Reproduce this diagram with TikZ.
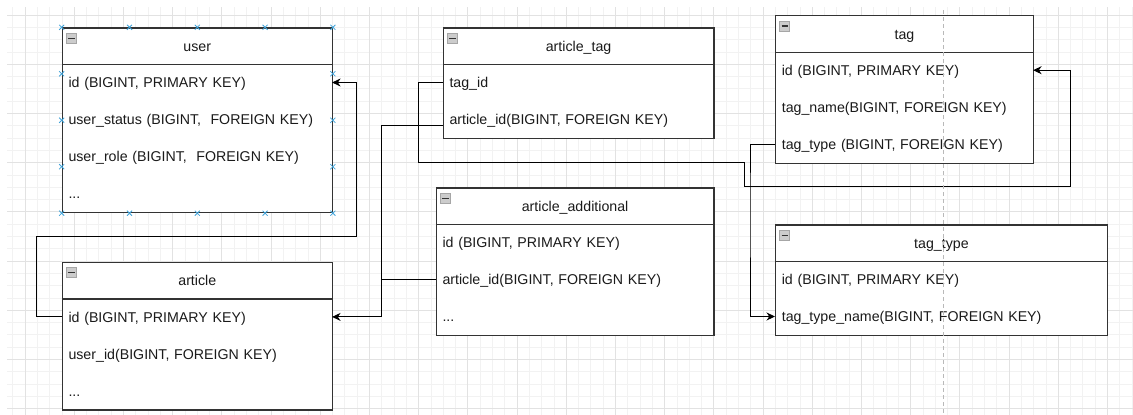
\documentclass[tikz,border=0pt]{standalone}
\usepackage{fontspec}
\setmainfont{Liberation Sans}
\usetikzlibrary{arrows.meta,calc}
\definecolor{boxline}{HTML}{333333}
\definecolor{txt}{HTML}{1A1A1A}
\definecolor{gridminor}{HTML}{F2F2F2}
\definecolor{gridmajor}{HTML}{E2E2E2}
\definecolor{selx}{HTML}{3FA3DA}
\tikzset{
  x=1pt, y=-1pt,
  tbox/.style={rectangle, draw=boxline, line width=1.2pt, fill=white, inner sep=0pt},
  thead/.style={rectangle, draw=boxline, line width=1.2pt, minimum height=36.7pt, inner sep=0pt,
    font=\fontsize{14.2}{17}\selectfont, text=txt, text height=11.2pt, text depth=1pt},
  rowtxt/.style={anchor=west, inner xsep=6.6pt, inner ysep=0pt, text height=11.2pt, text depth=1pt,
    align=left, font=\fontsize{14.2}{17}\selectfont, text=txt},
  minusbox/.style={rectangle, minimum size=10pt, inner sep=0pt, fill=gray!40, draw=gray!70, line width=0.8pt},
  minusline/.style={draw=black!80, line width=1.3pt},
  conn/.style={draw=black, line width=1pt},
  arr/.style={-{Stealth[length=8.5pt,width=8pt]}},
  minorgrid/.style={draw=gridminor, line width=0.8pt},
  majorgrid/.style={draw=gridmajor, line width=0.9pt},
  selmark/.style={draw=selx, line width=0.8pt},
  pagebreak/.style={draw=gray!55, line width=0.9pt, dash pattern=on 4pt off 3pt}
}
\newcommand\erTable[6]{%
  \pgfmathsetmacro\erH{36.7+37*#5}%
  \node[tbox, minimum width=#4pt, minimum height=\erH pt, anchor=north west] (#1) at (#2,#3) {};
  \node[thead, minimum width=#4pt, anchor=north west] (#1-h) at (#2,#3) {#6};
  \node[minusbox] (#1-m) at ([shift={(9.8,10.9)}]#1.north west) {};
  \draw[minusline] ([xshift=2.3pt]#1-m.west) -- ([xshift=-2.3pt]#1-m.east);
}
\newcommand\erRow[5]{%
  \pgfmathsetmacro\erY{55.2+37*#4}%
  \pgfmathsetmacro\erTW{#3-13.2}%
  \node[rowtxt, text width=\erTW pt] (#1) at ([yshift=-\erY pt]#2.north west) {#5};
}
\newcommand\selX[1]{%
  \draw[selmark] ([shift={(-2.5,-2.5)}]#1) -- ([shift={(2.5,2.5)}]#1)
                 ([shift={(-2.5,2.5)}]#1) -- ([shift={(2.5,-2.5)}]#1);
}
\begin{document}
\begin{tikzpicture}
\useasboundingbox (0,0) rectangle (1133,415);
\fill[white] (0,0) rectangle (1133,415);
% grid
\begin{scope}
\clip (7,7) rectangle (1133,415);
\foreach \k in {-2,...,91} \draw[minorgrid] ({25+12.3*\k},0) -- ({25+12.3*\k},415);
\foreach \k in {-1,...,33} \draw[minorgrid] (0,{15+12.3*\k}) -- (1133,{15+12.3*\k});
\foreach \k in {0,...,22} \draw[majorgrid] ({25+49.2*\k},0) -- ({25+49.2*\k},415);
\foreach \k in {0,...,8} \draw[majorgrid] (0,{15+49.2*\k}) -- (1133,{15+49.2*\k});
\end{scope}

% tables
\erTable{user}{61.7}{27.3}{270}{4}{user}
\erRow{user-id}{user}{270}{0}{id (BIGINT, PRIMARY KEY)}
\erRow{user-status}{user}{270}{1}{user\_status (BIGINT,\ \ FOREIGN KEY)}
\erRow{user-role}{user}{270}{2}{user\_role (BIGINT,\ \ FOREIGN KEY)}
\erRow{user-more}{user}{270}{3}{...}

\erTable{at}{442.7}{27.3}{270.6}{2}{article\_tag}
\erRow{at-tagid}{at}{270.6}{0}{tag\_id}
\erRow{at-artid}{at}{270.6}{1}{article\_id(BIGINT, FOREIGN KEY)}

\erTable{tag}{775}{15}{257.7}{3}{tag}
\erRow{tag-id}{tag}{257.7}{0}{id (BIGINT, PRIMARY KEY)}
\erRow{tag-name}{tag}{257.7}{1}{tag\_name(BIGINT, FOREIGN KEY)}
\erRow{tag-type}{tag}{257.7}{2}{tag\_type (BIGINT, FOREIGN KEY)}

\erTable{article}{61.7}{261.7}{270}{3}{article}
\erRow{article-id}{article}{270}{0}{id (BIGINT, PRIMARY KEY)}
\erRow{article-uid}{article}{270}{1}{user\_id(BIGINT, FOREIGN KEY)}
\erRow{article-more}{article}{270}{2}{...}

\erTable{add}{435.7}{187.3}{277.6}{3}{article\_additional}
\erRow{add-id}{add}{277.6}{0}{id (BIGINT, PRIMARY KEY)}
\erRow{add-artid}{add}{277.6}{1}{article\_id(BIGINT, FOREIGN KEY)}
\erRow{add-more}{add}{277.6}{2}{...}

\erTable{tt}{775}{224.3}{331.7}{2}{tag\_type}
\erRow{tt-id}{tt}{331.7}{0}{id (BIGINT, PRIMARY KEY)}
\erRow{tt-name}{tt}{331.7}{1}{tag\_type\_name(BIGINT, FOREIGN KEY)}

% connectors
\coordinate (c1a) at (36.7,236);
\coordinate (c1b) at (356.7,236);
\draw[conn,arr] (article-id.west) -| (c1a) -- (c1b) |- (user-id.east);

\coordinate (c2) at (381.7,200);
\draw[conn,arr] (add-artid.west) -- (add-artid.west -| c2) |- (article-id.east);
\draw[conn] ([yshift=-5.5pt]at-artid.west) -| (add-artid.west -| c2);

\coordinate (c3a) at (418.3,162.3);
\coordinate (c3b) at (744.3,186.7);
\coordinate (c3c) at (1070,186.7);
\draw[conn,arr] (at-tagid.west) -| (c3a) -| (c3b) -- (c3c) |- (tag-id.east);

\coordinate (c4) at (750,200);
\draw[conn,arr] (tag-type.west) -| (c4) |- (tt-name.west);

% selection markers on user
\foreach \a in {north west,north,north east,south west,south,south east,west,east} {\selX{user.\a}}
\foreach \a/\b in {north west/north east,south west/south east,north west/south west,north east/south east} {
  \selX{$(user.\a)!0.25!(user.\b)$}
  \selX{$(user.\a)!0.75!(user.\b)$}
}

% page break
\coordinate (pbtop) at (943.3,10);
\coordinate (pbbot) at (943.3,415);
\draw[pagebreak] (pbtop) -- (pbbot);
\end{tikzpicture}
\end{document}
